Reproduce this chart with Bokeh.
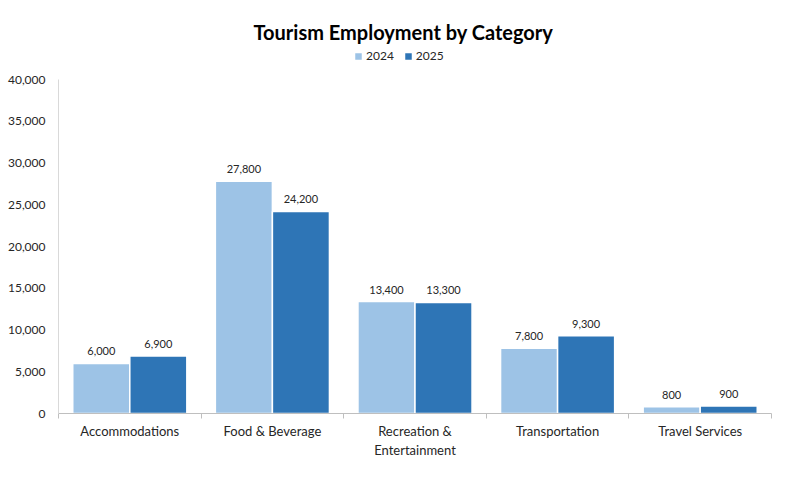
import numpy as np
from bokeh.plotting import figure
from bokeh.models import (Range1d, FixedTicker, NumeralTickFormatter, Legend, LegendItem,
                          ColumnDataSource)
from bokeh.core.properties import value
from bokeh.embed import file_html
from bokeh.resources import INLINE

categories = ["Accommodations", "Food & Beverage", "Recreation &\nEntertainment",
              "Transportation", "Travel Services"]
values_2024 = [6000, 27800, 13400, 7800, 800]
values_2025 = [6900, 24200, 13300, 9300, 900]
series_names = ["2024", "2025"]
y_ticks = [0, 5000, 10000, 15000, 20000, 25000, 30000, 35000, 40000]
Y_MAX = 40000

FONT = "Lato"
C24 = "#9DC3E6"
C25 = "#2E75B6"

# layout (pixels)
W, H = 800, 491
FRAME_L, FRAME_R, FRAME_T, FRAME_B = 58, 771, 45, 413
AXIS_TOP = 79  # pixel where Y_MAX sits
y_end = Y_MAX * (FRAME_B - FRAME_T) / (FRAME_B - AXIS_TOP)

n = len(categories)
idx = np.arange(n)
src = ColumnDataSource(dict(
    x24=idx + 0.3, x25=idx + 0.7,
    v24=values_2024, v25=values_2025,
    l24=[f"{v:,}" for v in values_2024],
    l25=[f"{v:,}" for v in values_2025],
))

p = figure(width=W, height=H, output_backend="svg", toolbar_location=None,
           x_range=Range1d(0, n), y_range=Range1d(0, y_end),
           title="Tourism Employment by Category")
p.min_border_left = FRAME_L
p.min_border_right = W - FRAME_R
p.min_border_bottom = H - FRAME_B
p.min_border_top = FRAME_T
p.outline_line_color = None
p.xgrid.visible = False
p.ygrid.visible = False

p.title.align = "left"
p.title.offset = 253 - FRAME_L
p.title.text_font = FONT
p.title.text_font_size = "20px"
p.title.text_font_style = "bold"
p.title.text_color = "black"
p.title.standoff = 3

r24 = p.vbar(x="x24", top="v24", width=0.4, source=src, fill_color=C24,
             line_color="white", line_width=1.5)
r25 = p.vbar(x="x25", top="v25", width=0.4, source=src, fill_color=C25,
             line_color="white", line_width=1.5)

for xcol, ycol, lcol in (("x24", "v24", "l24"), ("x25", "v25", "l25")):
    p.text(x=xcol, y=ycol, text=lcol, source=src, text_align="center",
           text_baseline="bottom", y_offset=-8, text_font=value(FONT),
           text_font_size="11px", text_color="#262626")

# x axis
xa = p.xaxis[0]
xa.ticker = FixedTicker(ticks=list(idx + 0.5), minor_ticks=list(range(n + 1)))
xa.major_label_overrides = {float(i + 0.5): c for i, c in enumerate(categories)}
xa.major_tick_out = 0
xa.major_tick_in = 0
xa.minor_tick_out = 5
xa.minor_tick_in = 0
xa.minor_tick_line_color = "#BFBFBF"
xa.axis_line_color = "#BFBFBF"
xa.major_label_text_font = FONT
xa.major_label_text_font_size = "13px"
xa.major_label_text_color = "#262626"
xa.major_label_standoff = 4

# y axis
ya = p.yaxis[0]
ya.ticker = FixedTicker(ticks=y_ticks, minor_ticks=[])
ya.formatter = NumeralTickFormatter(format="0,0")
ya.bounds = (0, Y_MAX)
ya.major_tick_out = 0
ya.major_tick_in = 0
ya.minor_tick_out = 0
ya.axis_line_color = "#D9D9D9"
ya.major_label_text_font = FONT
ya.major_label_text_font_size = "12px"
ya.major_label_text_color = "#262626"
ya.major_label_standoff = 13

legend = Legend(items=[LegendItem(label=series_names[0], renderers=[r24]),
                       LegendItem(label=series_names[1], renderers=[r25])],
                orientation="horizontal", location=(353 - FRAME_L, FRAME_B - 63),
                glyph_width=10, glyph_height=10, label_standoff=3, spacing=9,
                label_text_font=FONT, label_text_font_size="12px",
                label_text_color="#262626", border_line_color=None,
                background_fill_alpha=0, padding=0, margin=0)
p.add_layout(legend, "center")

open("out.html", "w").write(file_html(p, INLINE))
